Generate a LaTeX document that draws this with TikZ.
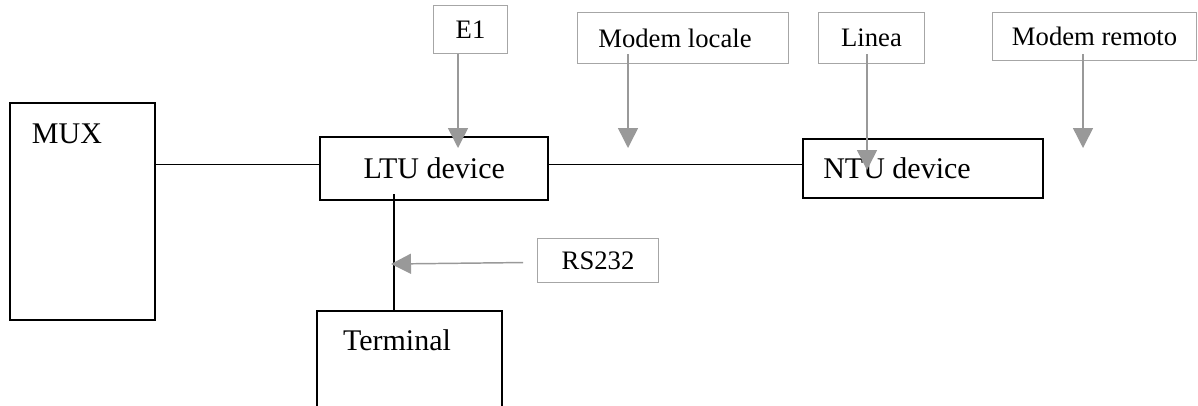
\documentclass[tikz,border=0pt]{standalone}
\usepackage{fontspec}
\setmainfont{Liberation Serif}
\usetikzlibrary{arrows.meta}

\begin{document}
\begin{tikzpicture}[x=0.75pt,y=-0.75pt,
	blk/.style={draw,line width=1.8pt,anchor=north west,inner sep=0pt},
	tag/.style={draw=gray!70,line width=0.8pt,anchor=north west,inner sep=0pt,font=\fontsize{20}{24}\selectfont},
	big/.style={font=\fontsize{22.5}{27}\selectfont,inner sep=0pt},
	wire/.style={line width=1pt},
	feed/.style={-{Triangle[length=15pt,width=15pt]},draw=gray!80,fill=gray!80,line width=1.1pt}]
\useasboundingbox (0,0) rectangle (1198,405);
\clip (0,0) rectangle (1198,405);

% devices
\node[blk,minimum width=108.75pt,minimum height=162.75pt](mux) at (9,102) {};
\node[big](muxt) at (67,134) {MUX};
\node[blk,minimum width=171pt,minimum height=47.25pt,font=\fontsize{22.5}{27}\selectfont](ltu) at (319,136) {LTU device};
\node[blk,minimum width=180pt,minimum height=44.25pt](ntu) at (802,138) {};
\node[big,anchor=west](ntut) at (823,168) {NTU device};
\node[blk,minimum width=138.75pt,minimum height=90pt](term) at (316,310) {};
\node[big](termt) at (397,340) {Terminal};

% labels
\node[tag,minimum width=55.5pt,minimum height=36pt](e1) at (433,5) {E1};
\node[tag,minimum width=158.25pt,minimum height=38.25pt](ml) at (577,12) {};
\node[font=\fontsize{20}{24}\selectfont,inner sep=0pt](mlt) at (675,38) {Modem locale};
\node[tag,minimum width=79.5pt,minimum height=38.25pt](li) at (818,12) {Linea};
\node[tag,minimum width=153pt,minimum height=36pt](mr) at (992,12) {Modem remoto};
\node[tag,minimum width=90.75pt,minimum height=33pt](rs) at (537,238) {RS232};

% links
\draw[wire] ([yshift=3.4pt]mux.east |- ltu.west) -- ([yshift=3.4pt]ltu.west);
\draw[wire] ([yshift=3.4pt]ltu.east) -- ([yshift=3.4pt]ntu.west);
\draw[wire] ([shift={(75,-7)}]ltu.south west) -- ([shift={(78,2)}]term.north west);

\foreach \t/\x/\y/\s in {e1/458/148/0,ml/628/148/7.5,li/867/170/7.5,mr/1083/148/5.25}{
	\coordinate (tip\t) at (\x,\y);
	\draw[feed] ([yshift=\s pt]\t.south -| tip\t) -- (tip\t);
}
\coordinate (tiprs) at (391,264);
\draw[feed] ([shift={(-14,2)}]rs.west) -- (tiprs);

\end{tikzpicture}
\end{document}
